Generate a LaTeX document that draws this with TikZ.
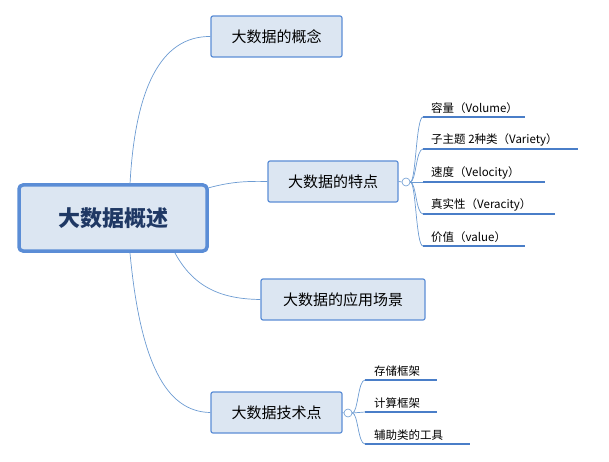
\documentclass[tikz,border=0pt]{standalone}
\usepackage{fontspec}
\newfontfamily\cjk{Noto Sans CJK SC}
\begin{document}
\begin{tikzpicture}[x=1pt,y=-1pt,
 topic/.style={draw=nodeb,fill=nodef,line width=1.2pt,rounded corners=2pt,minimum height=41pt,font=\cjk\fontsize{15}{15}\selectfont,text=black},
 link/.style={draw=linkc,line width=0.7pt},
 leaf/.style={font=\cjk\fontsize{11.5}{12}\selectfont,anchor=south west,inner sep=1pt,text=black},
 ul/.style={draw=ulc,line width=2pt},
 knob/.style={circle,draw=linkc,fill=white,line width=0.6pt,minimum size=8pt,inner sep=0pt}]
\definecolor{nodeb}{HTML}{5B8DD6}
\definecolor{nodef}{HTML}{DCE6F2}
\definecolor{linkc}{HTML}{6C9BD2}
\definecolor{ulc}{HTML}{4A7EC8}
\useasboundingbox (0,0) rectangle (609,462);
\node[draw=nodeb,fill=nodef,line width=3.5pt,rounded corners=4pt,minimum width=188pt,minimum height=66pt,font=\cjk\bfseries\fontsize{22}{22}\selectfont,text={rgb,255:red,31;green,56;blue,100}] (root) at (113,218) {大数据概述};
\node[topic,minimum width=131pt] (a) at (276.5,36.5) {大数据的概念};
\node[topic,minimum width=130pt] (b) at (333,181.5) {大数据的特点};
\node[topic,minimum width=164pt] (c) at (343,299.5) {大数据的应用场景};
\node[topic,minimum width=131pt] (d) at (276.5,412.5) {大数据技术点};
\draw[link] (130,184) .. controls (135,90) and (160,36) .. (a.west);
\draw[link] (208,188) .. controls (230,182) and (245,181) .. (b.west);
\draw[link] (175,253) .. controls (195,290) and (225,299) .. (c.west);
\draw[link] (130,253) .. controls (140,360) and (165,412) .. (d.west);
\node[knob] (kb) at (406,182) {};
\node[knob] (kd) at (348,413) {};
\draw[link] (b.east) -- (kb.west);
\draw[link] (d.east) -- (kd.west);
% leaves of b
\foreach \n/\y/\e/\t in {b1/117/525/{容量（Volume）},b2/149/578/{子主题 2种类（Variety）},b3/182/545/{速度（Velocity）},b4/214/555/{真实性（Veracity）},b5/246/525/{价值（value）}}{
 \coordinate (\n s) at (423,\y);
 \coordinate (\n e) at (\e,\y);
 \node[leaf] (\n) at (430,\y-2) {\t};
 \draw[ul] (\n s) -- (\n e);
 \draw[link] (kb.east) .. controls (416,182) and (416,\y) .. (\n s);
}
\foreach \n/\y/\e/\t in {d1/380/437/{存储框架},d2/412/437/{计算框架},d3/444/470/{辅助类的工具}}{
 \coordinate (\n s) at (365,\y);
 \coordinate (\n e) at (\e,\y);
 \node[leaf] (\n) at (373,\y-2) {\t};
 \draw[ul] (\n s) -- (\n e);
 \draw[link] (kd.east) .. controls (358,413) and (358,\y) .. (\n s);
}
\end{tikzpicture}
\end{document}
